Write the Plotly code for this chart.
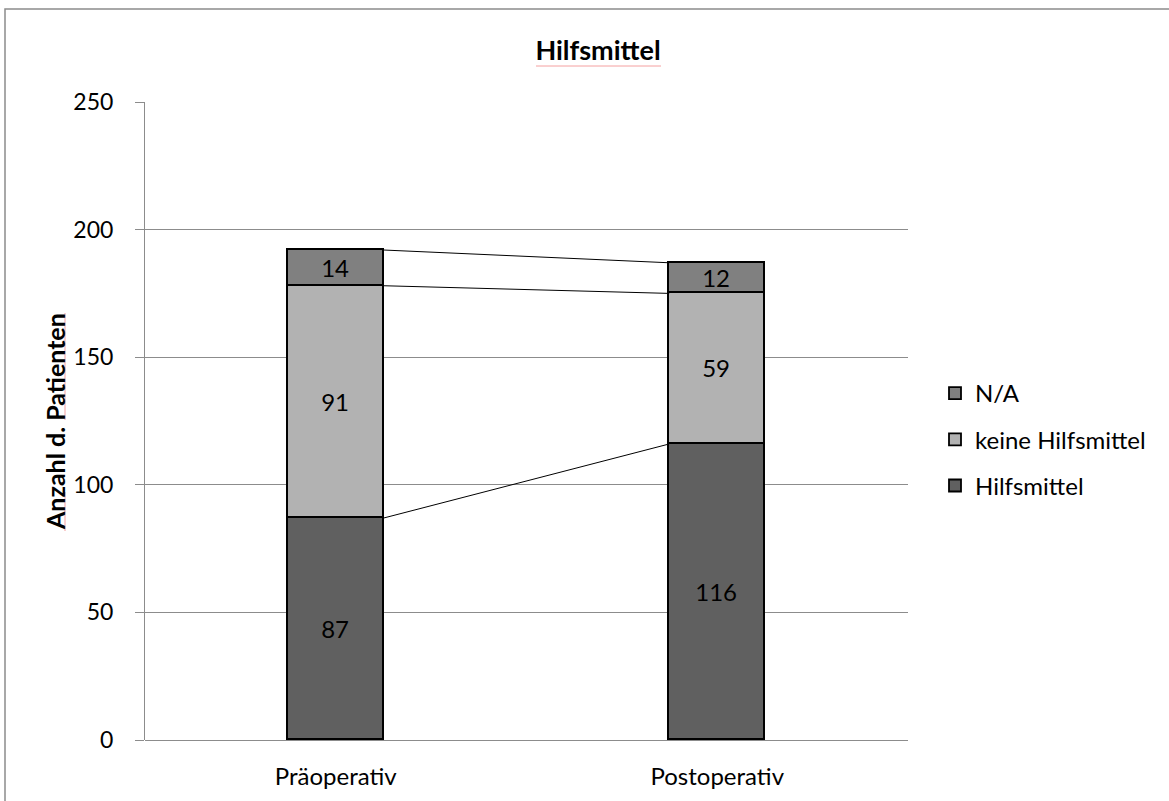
import plotly.graph_objects as go

# Data
categories = ["Präoperativ", "Postoperativ"]
series_names = ["Hilfsmittel", "keine Hilfsmittel", "N/A"]
hilfsmittel = [87, 116]
keine_hilfsmittel = [91, 59]
na_values = [14, 12]
y_ticks = [0, 50, 100, 150, 200, 250]

colors = ["#606060", "#b2b2b2", "#808080"]
series_values = [hilfsmittel, keine_hilfsmittel, na_values]

FONT = "Lato"
W, H = 1169, 801
L, R, T, B = 145, 261, 102, 61
bar_width = 0.252

x_pos = list(range(len(categories)))

fig = go.Figure()

n_series = len(series_names)
for i, (name, vals, col) in enumerate(zip(series_names, series_values, colors)):
    fig.add_trace(go.Bar(
        x=x_pos, y=vals, name=name, legendgroup=name,
        legendrank=n_series - i,  # top segment listed first
        width=bar_width,
        marker=dict(color=col, line=dict(color="#000000", width=1.8)),
        text=[str(v) for v in vals],
        textposition="inside", insidetextanchor="middle",
        textfont=dict(family=FONT, size=24, color="#000000"),
        textangle=0,
        hoverinfo="skip",
    ))

# Series lines connecting the tops of each stacked segment
cum = [0] * len(categories)
for vals in series_values:
    cum = [c + v for c, v in zip(cum, vals)]
    fig.add_trace(go.Scatter(
        x=[x_pos[0] + bar_width / 2, x_pos[1] - bar_width / 2],
        y=[cum[0], cum[1]],
        mode="lines", line=dict(color="#000000", width=1),
        showlegend=False, hoverinfo="skip",
    ))

plot_w = W - L - R
plot_h = H - T - B

def px_x(px):
    return (px - L) / plot_w

def px_y(py):
    return (H - B - py) / plot_h

shapes = [
    # outer chart border (top and left edges visible)
    dict(type="rect", xref="paper", yref="paper",
         x0=px_x(5), x1=px_x(1300), y0=px_y(9), y1=px_y(900),
         line=dict(color="#8c8c8c", width=1.5), layer="below"),
    # spell-check underline under the title
    dict(type="line", xref="paper", yref="paper",
         x0=px_x(536), x1=px_x(661), y0=px_y(66), y1=px_y(66),
         line=dict(color="#f4a0a0", width=1)),
    # spell-check underlines beside the axis title
    dict(type="line", xref="paper", yref="paper",
         x0=px_x(65), x1=px_x(65), y0=px_y(492), y1=px_y(531),
         line=dict(color="#f4a0a0", width=1)),
    dict(type="line", xref="paper", yref="paper",
         x0=px_x(65), x1=px_x(65), y0=px_y(313), y1=px_y(420),
         line=dict(color="#f4a0a0", width=1)),
]

annotations = [
    dict(text="<b>Anzahl d. Patienten</b>", xref="paper", yref="paper",
         x=px_x(55), y=px_y(422), xanchor="center", yanchor="middle",
         textangle=-90, showarrow=False,
         font=dict(family=FONT, size=25, color="#000000")),
]

fig.update_layout(
    width=W, height=H,
    margin=dict(l=L, r=R, t=T, b=B),
    barmode="stack",
    bargap=0,
    uniformtext=dict(minsize=24, mode="show"),
    paper_bgcolor="#ffffff", plot_bgcolor="#ffffff",
    font=dict(family=FONT, size=24, color="#000000"),
    title=dict(text="<b>Hilfsmittel</b>", x=px_x(598), xref="paper",
               y=1 - 51 / H, yref="container", xanchor="center", yanchor="middle",
               font=dict(family=FONT, size=27, color="#000000")),
    showlegend=True,
    legend=dict(x=px_x(935), y=px_y(371), xanchor="left", yanchor="top",
                traceorder="grouped", font=dict(family=FONT, size=24),
                itemwidth=30, tracegroupgap=12, bgcolor="rgba(0,0,0,0)"),
    shapes=shapes,
    annotations=annotations,
)

fig.update_xaxes(
    range=[-0.5, 1.5], tickvals=x_pos, ticktext=categories,
    showgrid=False, zeroline=False, showline=False, ticks="",
    tickfont=dict(family=FONT, size=24), ticklabelstandoff=20,
    fixedrange=True,
)
fig.update_yaxes(
    range=[0, 250], tickvals=y_ticks,
    showgrid=True, gridcolor="#8c8c8c", gridwidth=1,
    zeroline=True, zerolinecolor="#8c8c8c", zerolinewidth=1,
    showline=True, linecolor="#8c8c8c", linewidth=1,
    ticks="outside", ticklen=9, tickcolor="#8c8c8c",
    tickfont=dict(family=FONT, size=23), ticklabelstandoff=17,
    fixedrange=True,
)

fig.write_html("out.html")
